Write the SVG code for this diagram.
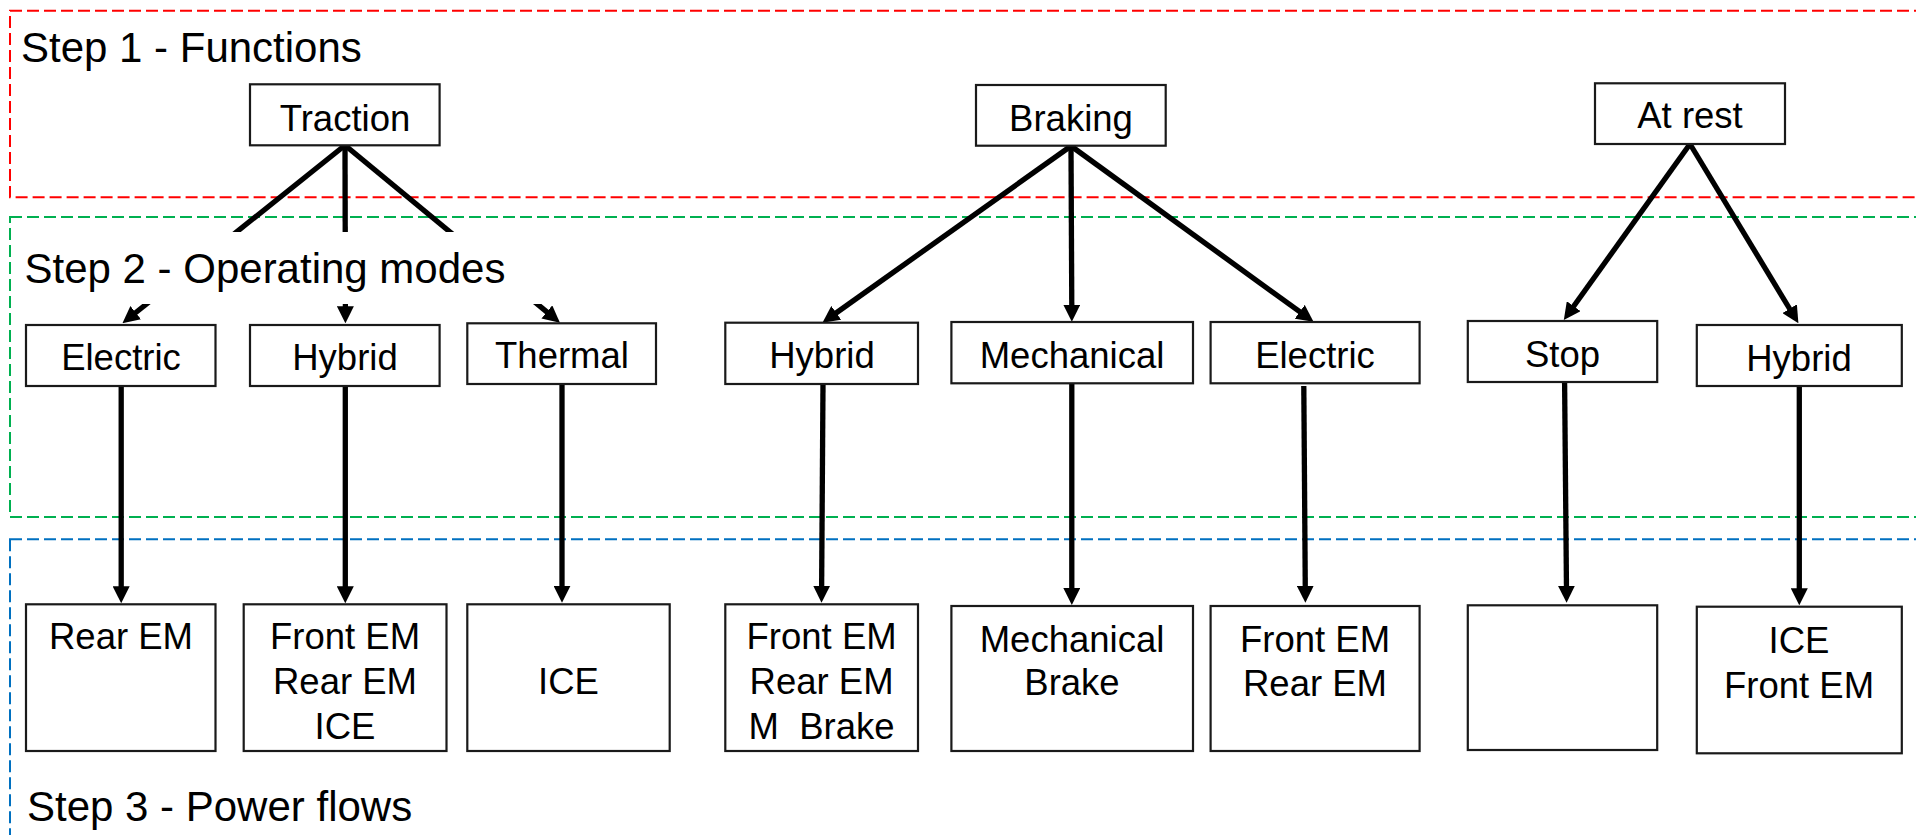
<svg xmlns="http://www.w3.org/2000/svg" width="1916" height="835" viewBox="0 0 1916 835">
<style>
.frame{fill:none;stroke-width:2;stroke-dasharray:12 5}
.box{fill:#fff;stroke:#1a1a1a;stroke-width:2.2}
.lbl{font-family:"Liberation Sans",Arial,sans-serif;font-size:36.5px;fill:#000;text-anchor:middle;white-space:pre}
.step{font-family:"Liberation Sans",Arial,sans-serif;font-size:42px;fill:#000}
.con{fill:none;stroke:#000;stroke-width:5.3;marker-end:url(#arr)}
</style>
<defs>
<marker id="arr" viewBox="0 0 17 17" refX="5" refY="8.5" markerWidth="17" markerHeight="17" markerUnits="userSpaceOnUse" orient="auto">
<path d="M0,0 L17,8.5 L0,17 z" fill="#000"/>
</marker>
</defs>
<rect width="1916" height="835" fill="#fff"/>
<g id="frames">
<rect class="frame" x="10" y="10.7" width="1930" height="186.6" stroke="#FF0000"/>
<rect class="frame" x="10" y="217" width="1930" height="300" stroke="#00B050"/>
<rect class="frame" x="10" y="539.3" width="1930" height="320" stroke="#0070C0"/>
<text class="step" x="21" y="61.7">Step 1 - Functions</text>
<text class="step" x="27" y="820.7">Step 3 - Power flows</text>
</g>
<g id="connectors">
<line class="con" x1="345" y1="145.3" x2="131.8" y2="315.8"/>
<line class="con" x1="345" y1="145.3" x2="345.4" y2="311.3"/>
<line class="con" x1="345" y1="145.3" x2="550.7" y2="315.1"/>
<line class="con" x1="1071" y1="146" x2="832.2" y2="315.75"/>
<line class="con" x1="1071" y1="146" x2="1071.8" y2="309.7"/>
<line class="con" x1="1071" y1="146" x2="1303.8" y2="314.7"/>
<line class="con" x1="1690" y1="144" x2="1570.8" y2="310.25"/>
<line class="con" x1="1690" y1="144" x2="1792.2" y2="313"/>
<line class="con" x1="121.2" y1="386" x2="121.2" y2="591.3"/>
<line class="con" x1="345.3" y1="386" x2="345.3" y2="591.3"/>
<line class="con" x1="562" y1="384" x2="562" y2="590.7"/>
<line class="con" x1="823" y1="384" x2="821.6" y2="590.7"/>
<line class="con" x1="1071.8" y1="383.3" x2="1071.8" y2="593"/>
<line class="con" x1="1303.8" y1="386" x2="1305.3" y2="590.7"/>
<line class="con" x1="1564.6" y1="382" x2="1566.5" y2="590.7"/>
<line class="con" x1="1799.3" y1="386" x2="1799.3" y2="593.3"/>
</g>
<g id="step2-label">
<rect x="14" y="232" width="566" height="72" fill="#fff"/>
<text class="step" x="24.5" y="282.7">Step 2 - Operating modes</text>
</g>
<g id="traction"><rect class="box" x="250" y="84.3" width="189.6" height="61"/><text class="lbl" x="345" y="131">Traction</text></g>
<g id="braking"><rect class="box" x="976" y="85" width="189.7" height="60.7"/><text class="lbl" x="1071" y="131">Braking</text></g>
<g id="atrest"><rect class="box" x="1595" y="83.3" width="190" height="60.7"/><text class="lbl" x="1690" y="128.3">At rest</text></g>
<g id="t-electric"><rect class="box" x="26" y="325" width="189.5" height="61"/><text class="lbl" x="121" y="370">Electric</text></g>
<g id="t-hybrid"><rect class="box" x="250" y="325" width="189.6" height="61"/><text class="lbl" x="345" y="370">Hybrid</text></g>
<g id="t-thermal"><rect class="box" x="467.3" y="323.3" width="188.7" height="60.7"/><text class="lbl" x="562" y="368">Thermal</text></g>
<g id="b-hybrid"><rect class="box" x="725.3" y="322.7" width="192.7" height="61.3"/><text class="lbl" x="822" y="368">Hybrid</text></g>
<g id="b-mechanical"><rect class="box" x="951.4" y="322" width="241.6" height="61.3"/><text class="lbl" x="1072" y="368">Mechanical</text></g>
<g id="b-electric"><rect class="box" x="1210.6" y="322" width="209" height="61.3"/><text class="lbl" x="1315" y="368">Electric</text></g>
<g id="r-stop"><rect class="box" x="1467.8" y="321" width="189.4" height="61"/><text class="lbl" x="1562.5" y="366.7">Stop</text></g>
<g id="r-hybrid"><rect class="box" x="1696.8" y="325" width="205" height="61"/><text class="lbl" x="1799" y="370.7">Hybrid</text></g>
<g id="pf-rear"><rect class="box" x="26" y="604.3" width="189.5" height="146.7"/><text class="lbl" x="121" y="649.3">Rear EM</text></g>
<g id="pf-hybrid"><rect class="box" x="243.7" y="604.3" width="202.8" height="146.7"/><text class="lbl" x="345"><tspan x="345" y="649.3">Front EM</tspan><tspan x="345" y="694.3">Rear EM</tspan><tspan x="345" y="739.3">ICE</tspan></text></g>
<g id="pf-ice"><rect class="box" x="467.3" y="604.3" width="202.4" height="146.7"/><text class="lbl" x="568.5" y="694.3">ICE</text></g>
<g id="pf-bhybrid"><rect class="box" x="725.3" y="604.3" width="192.7" height="146.7"/><text class="lbl" x="821.6"><tspan x="821.6" y="649.3">Front EM</tspan><tspan x="821.6" y="694.3">Rear EM</tspan><tspan x="821.6" y="739.3">M  Brake</tspan></text></g>
<g id="pf-mech"><rect class="box" x="951.4" y="606" width="241.6" height="145"/><text class="lbl" x="1072"><tspan x="1072" y="651.7">Mechanical</tspan><tspan x="1072" y="695">Brake</tspan></text></g>
<g id="pf-belectric"><rect class="box" x="1210.6" y="606" width="209" height="145"/><text class="lbl" x="1315"><tspan x="1315" y="651.7">Front EM</tspan><tspan x="1315" y="696">Rear EM</tspan></text></g>
<g id="pf-stop"><rect class="box" x="1467.8" y="605.3" width="189.4" height="144.7"/></g>
<g id="pf-rhybrid"><rect class="box" x="1696.8" y="606.7" width="205" height="146.6"/><text class="lbl" x="1799"><tspan x="1799" y="652.7">ICE</tspan><tspan x="1799" y="697.7">Front EM</tspan></text></g>
</svg>
